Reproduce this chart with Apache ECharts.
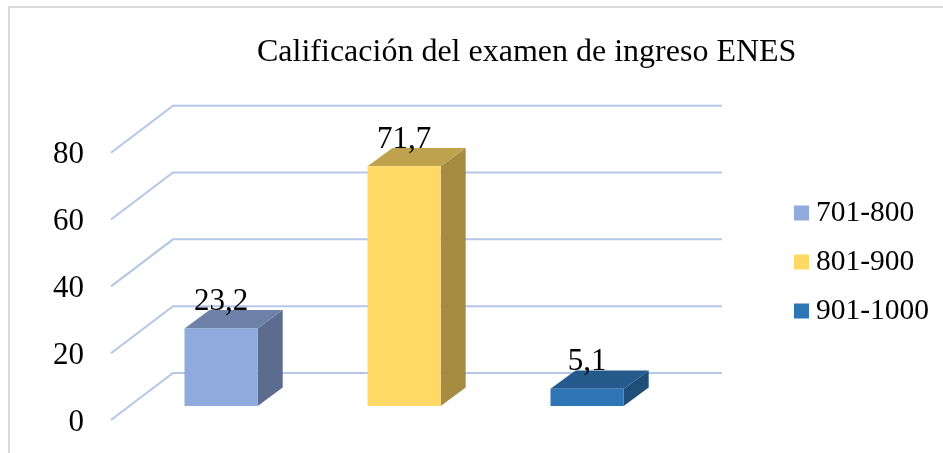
<!DOCTYPE html>
<html>
<head>
<meta charset="utf-8">
<script src="https://cdn.jsdelivr.net/npm/echarts@6/dist/echarts.min.js"></script>
<style>
html,body{margin:0;padding:0;background:#fff;}
#chart{width:943px;height:453px;}
</style>
</head>
<body>
<div id="chart"></div>
<script>
// ---- data ----
const categories = ['701-800', '801-900', '901-1000'];
const values = [23.2, 71.7, 5.1];
const valueLabels = ['23,2', '71,7', '5,1'];
const yTicks = [0, 20, 40, 60, 80];
const titleText = 'Calificación del examen de ingreso ENES';

// ---- styles ----
const frontColors = ['#8FAADC', '#FFD966', '#2E75B6'];
const sideColors = ['#5B6C8E', '#A68C40', '#1F4E79'];
const topColors = ['#6D81A9', '#BFA24D', '#245B8C'];
const gridColor = '#B4C7E7';
const FONT = '"Liberation Serif", "Times New Roman", serif';
const DEPTH = [-62, 47];      // back plane -> front plane offset
const BAR_FRONT = 0.70;       // fraction of depth where bar front face sits
const BAR_SIDE = [25, -18.4]; // bar's own depth vector
const BAR_WIDTH = 0.40;       // fraction of category band

const chart = echarts.init(document.getElementById('chart'), null, {renderer: 'canvas'});

function gridRender(params, api) {
  const v = api.value(0);
  const cs = params.coordSys;
  const y = api.coord([0, v])[1];
  const x0 = cs.x, x1 = cs.x + cs.width;
  return {
    type: 'polyline',
    shape: {points: [[x0 + DEPTH[0], y + DEPTH[1]], [x0, y], [x1, y]]},
    style: {stroke: gridColor, lineWidth: 2, fill: null},
    silent: true
  };
}

function barRender(idx) {
  return function (params, api) {
    const ci = api.value(0);
    const v = api.value(1);
    const base = api.coord([ci, 0]);
    const top = api.coord([ci, v]);
    const band = api.size([1, 0])[0];
    const w = band * BAR_WIDTH;
    const sx = DEPTH[0] * BAR_FRONT, sy = DEPTH[1] * BAR_FRONT;
    const fl = base[0] - w / 2 + sx, fr = base[0] + w / 2 + sx;
    const fb = base[1] + sy, ft = top[1] + sy;
    const dx = BAR_SIDE[0], dy = BAR_SIDE[1];
    return {
      type: 'group',
      children: [
        {type: 'polygon', shape: {points: [[fr, ft], [fr + dx, ft + dy], [fr + dx, fb + dy], [fr, fb]]},
          style: {fill: sideColors[idx]}},
        {type: 'polygon', shape: {points: [[fl, ft], [fl + dx, ft + dy], [fr + dx, ft + dy], [fr, ft]]},
          style: {fill: topColors[idx]}},
        {type: 'rect', shape: {x: fl, y: ft, width: fr - fl, height: fb - ft},
          style: {fill: frontColors[idx]}},
        {type: 'text', x: (fl + fr) / 2, y: ft + dy + 7,
          style: {text: valueLabels[idx], fill: '#000', font: '31px ' + FONT,
            align: 'center', verticalAlign: 'bottom'}, z2: 10}
      ]
    };
  };
}

const barSeries = categories.map((c, i) => ({
  type: 'custom',
  name: c,
  xAxisIndex: 0,
  yAxisIndex: 0,
  clip: false,
  z: 3,
  itemStyle: {color: frontColors[i]},
  renderItem: barRender(i),
  data: [[i, values[i]]]
}));

const option = {
  animation: false,
  backgroundColor: '#fff',
  title: {
    text: titleText,
    left: 252,
    top: 32,
    textStyle: {fontFamily: FONT, fontSize: 32, fontWeight: 'normal', color: '#000'}
  },
  legend: {
    orient: 'vertical',
    left: 789,
    top: 193,
    itemWidth: 15,
    itemHeight: 15,
    itemGap: 19,
    icon: 'rect',
    selectedMode: false,
    data: categories,
    textStyle: {fontFamily: FONT, fontSize: 29.5, color: '#000', padding: [0, 0, 0, 2]}
  },
  graphic: [{
    type: 'polyline',
    shape: {points: [[9, 453], [9, 7], [943, 7]]},
    style: {stroke: '#D9D9D9', lineWidth: 2, fill: null},
    silent: true
  }],
  grid: [
    {left: 173, right: 221, top: 105.7, bottom: 80},
    {left: 111, right: 283, top: 155.2, bottom: 30.5}
  ],
  xAxis: [
    {type: 'category', gridIndex: 0, data: categories, show: false},
    {type: 'category', gridIndex: 1, data: categories, show: false}
  ],
  yAxis: [
    {type: 'value', gridIndex: 0, min: 0, max: 80, interval: 20, show: false},
    {type: 'value', gridIndex: 1, min: 0, max: 80, interval: 20,
      axisLine: {show: false}, axisTick: {show: false}, splitLine: {show: false},
      axisLabel: {margin: 27, fontFamily: FONT, fontSize: 31, color: '#000'}}
  ],
  series: [
    {
      type: 'custom',
      name: '_grid',
      xAxisIndex: 0,
      yAxisIndex: 0,
      clip: false,
      z: 1,
      silent: true,
      renderItem: gridRender,
      data: yTicks.map(t => [t])
    }
  ].concat(barSeries)
};
chart.setOption(option);
</script>
</body>
</html>
